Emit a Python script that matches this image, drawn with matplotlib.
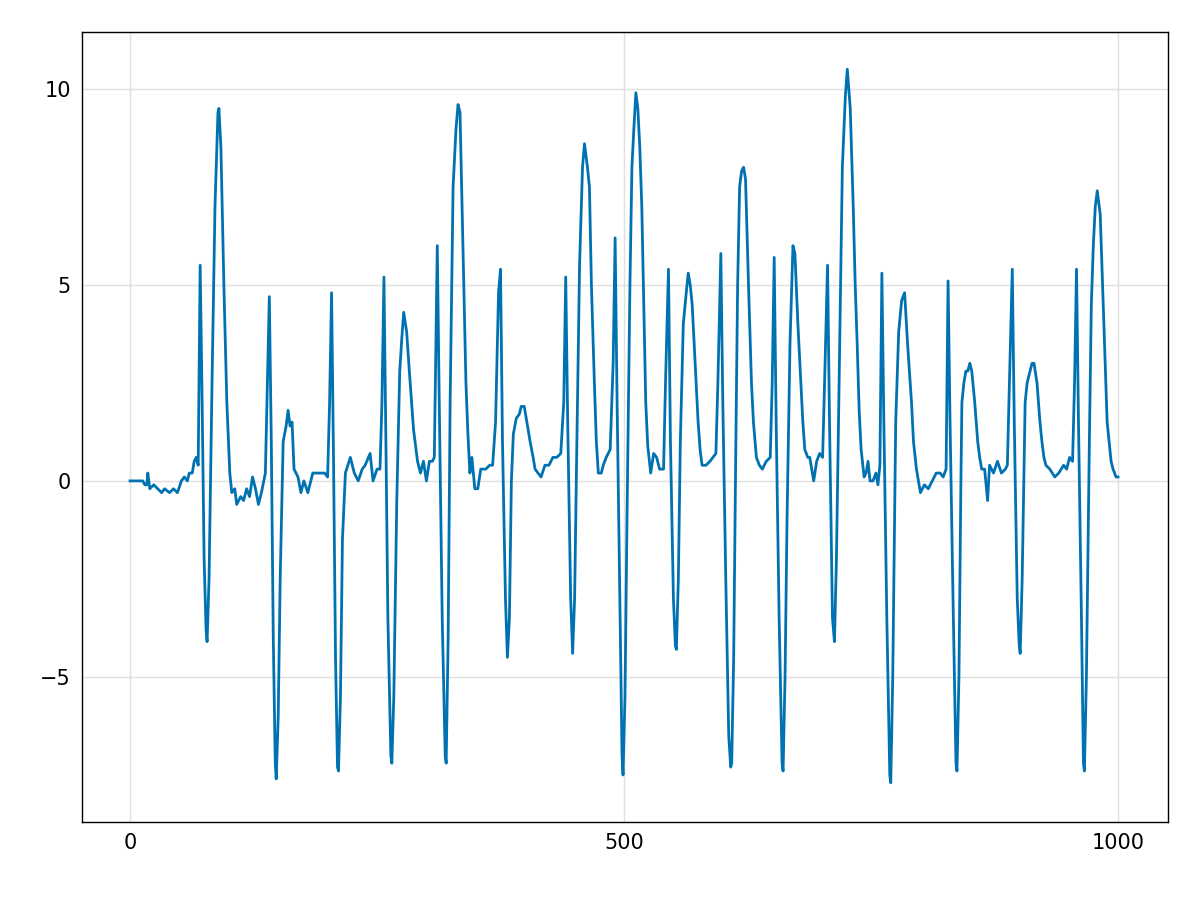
import matplotlib
matplotlib.use("Agg")
import matplotlib.pyplot as plt

# key points (x, y)
points = [
    (0, 0), (10, 0), (13, 0), (15, -0.1), (17, -0.1), (18, 0.2), (20, -0.2), (24, -0.1),
    (28, -0.2), (32, -0.3), (35, -0.2), (40, -0.3), (44, -0.2), (48, -0.3), (52, 0.0),
    (55, 0.1), (58, 0.0), (60, 0.2), (63, 0.2), (65, 0.5), (67, 0.6), (69, 0.4),
    (71, 5.5), (73, 2.0), (75, -2.0), (77, -3.8), (78, -4.1), (80, -2.5), (83, 2.5),
    (86, 7.0), (89, 9.4), (90, 9.5), (92, 8.5), (95, 5.0), (98, 2.0), (101, 0.2),
    (103, -0.3), (106, -0.2), (108, -0.6), (112, -0.4), (115, -0.5), (118, -0.2),
    (121, -0.4), (124, 0.1), (127, -0.2), (130, -0.6), (133, -0.3), (137, 0.2),
    (141, 4.7), (143, 1.0), (145, -4.0), (147, -7.2), (148, -7.6), (150, -6.0),
    (152, -2.5), (155, 1.0), (158, 1.4), (160, 1.8), (162, 1.4), (164, 1.5), (166, 0.3),
    (170, 0.1), (173, -0.3), (176, 0.0), (180, -0.3), (185, 0.2), (190, 0.2), (197, 0.2),
    (200, 0.1), (202, 2.0), (204, 4.8), (206, 0.5), (208, -4.5), (210, -7.3), (211, -7.4),
    (213, -5.5), (215, -1.5), (218, 0.2), (223, 0.6), (227, 0.2), (231, 0.0), (235, 0.3),
    (238, 0.4), (243, 0.7), (246, 0.0), (250, 0.3), (253, 0.3), (255, 2.0),
    (257, 5.2), (259, 1.0), (261, -3.5), (264, -7.0), (265, -7.2), (267, -5.5),
    (270, -0.5), (273, 2.8), (275, 3.6), (277, 4.3), (280, 3.8), (283, 2.7), (287, 1.3),
    (291, 0.5), (294, 0.2), (297, 0.5), (300, 0.0), (303, 0.5), (306, 0.5), (308, 0.6),
    (311, 6.0), (313, 2.0), (316, -3.5), (319, -7.0), (320, -7.2), (322, -4.0),
    (324, 2.0), (327, 7.5), (330, 9.0), (332, 9.6), (334, 9.4), (337, 6.0), (340, 2.5),
    (342, 1.2), (344, 0.2), (346, 0.6), (349, -0.2), (352, -0.2), (355, 0.3), (360, 0.3),
    (364, 0.4), (367, 0.4), (370, 1.5), (373, 4.8),
    (375, 5.4), (377, 1.0), (380, -3.0), (382, -4.5), (384, -3.5), (386, 0.0),
    (388, 1.2), (391, 1.6), (394, 1.7), (396, 1.9), (399, 1.9), (401, 1.6), (405, 1.0),
    (408, 0.6), (410, 0.3), (413, 0.2), (416, 0.1), (420, 0.4), (424, 0.4), (428, 0.6),
    (432, 0.6), (436, 0.7), (439, 2.0),
    (441, 5.2), (443, 1.5), (446, -3.0), (448, -4.4), (450, -3.0), (452, 0.5),
    (455, 5.5), (458, 8.0), (460, 8.6), (463, 8.0), (465, 7.5), (467, 5.0), (470, 2.5),
    (472, 1.0), (474, 0.2), (477, 0.2), (479, 0.4), (482, 0.6), (486, 0.8),
    (489, 3.0), (491, 6.2), (493, 2.0), (496, -3.5), (498, -7.0), (499, -7.5),
    (501, -5.5), (503, -1.0), (506, 5.0), (508, 8.0), (510, 9.0), (512, 9.9),
    (514, 9.5), (516, 8.5), (518, 7.0), (520, 4.5), (522, 2.0), (524, 0.9), (527, 0.2),
    (530, 0.7), (533, 0.6), (536, 0.3), (540, 0.3), (542, 2.5),
    (545, 5.4), (547, 1.0), (550, -3.0), (552, -4.2), (553, -4.3), (555, -2.5),
    (557, 1.0), (560, 4.0), (563, 4.8), (565, 5.3), (567, 5.0), (569, 4.5), (571, 3.5),
    (573, 2.5), (575, 1.5), (577, 0.8), (579, 0.4), (583, 0.4), (587, 0.5), (590, 0.6),
    (593, 0.7), (595, 2.5),
    (598, 5.8), (600, 2.0), (603, -2.5), (606, -6.5), (608, -7.3), (609, -7.2),
    (611, -4.5), (613, 0.5), (615, 5.0), (617, 7.5), (619, 7.9), (621, 8.0), (623, 7.7),
    (626, 5.0), (629, 2.5), (631, 1.5), (634, 0.6), (637, 0.4), (640, 0.3), (644, 0.5),
    (648, 0.6), (650, 2.5),
    (652, 5.7), (654, 1.5), (657, -3.5), (660, -7.2), (661, -7.4), (663, -5.0),
    (665, -1.0), (668, 3.5), (671, 6.0), (673, 5.8), (676, 4.0), (678, 3.0), (681, 1.5),
    (683, 0.8), (686, 0.6), (688, 0.6), (692, 0.0), (695, 0.5), (698, 0.7), (701, 0.6),
    (703, 2.5),
    (706, 5.5), (708, 1.5), (711, -3.5), (713, -4.1), (715, -2.0), (718, 3.0),
    (721, 8.0), (724, 9.8), (726, 10.5), (729, 9.5), (732, 7.0), (734, 5.0), (736, 3.5),
    (738, 1.8), (740, 0.8), (743, 0.1), (745, 0.2), (747, 0.5), (749, 0.0), (752, 0.0),
    (755, 0.2), (757, -0.1), (759, 0.4),
    (761, 5.3), (763, 1.5), (766, -3.5), (769, -7.5), (770, -7.7), (772, -5.0),
    (775, 1.5), (778, 3.8), (781, 4.6), (784, 4.8), (787, 3.5), (791, 2.0), (793, 1.0),
    (796, 0.3), (798, 0.0), (800, -0.3), (804, -0.1), (808, -0.2), (812, 0.0),
    (816, 0.2), (820, 0.2), (823, 0.1), (826, 0.3),
    (828, 5.1), (830, 1.5), (833, -3.0), (836, -7.2), (837, -7.4), (839, -5.0),
    (841, 0.0), (842, 2.0), (844, 2.5), (846, 2.8), (848, 2.8), (850, 3.0), (852, 2.8),
    (855, 2.0), (858, 1.0), (860, 0.6), (862, 0.3), (865, 0.3), (868, -0.5), (870, 0.4),
    (874, 0.2), (878, 0.5), (882, 0.2), (886, 0.3), (888, 0.4),
    (893, 5.4), (895, 1.5), (898, -3.0), (900, -4.2), (901, -4.4), (903, -2.5),
    (906, 2.0), (908, 2.5), (911, 2.8), (913, 3.0), (915, 3.0), (918, 2.5), (921, 1.5),
    (923, 1.0), (925, 0.6), (927, 0.4), (931, 0.3), (936, 0.1), (940, 0.2), (945, 0.4),
    (948, 0.3), (951, 0.6), (954, 0.5), (956, 2.5),
    (958, 5.4), (960, 1.5), (963, -3.5), (965, -7.2), (966, -7.4), (968, -5.0),
    (971, 1.0), (973, 4.5), (975, 6.0), (977, 7.0), (979, 7.4), (982, 6.8), (985, 4.5),
    (987, 3.0), (989, 1.5), (991, 1.0), (993, 0.5), (995, 0.3), (998, 0.1), (1000, 0.1),
]
x_pts = [p[0] for p in points]
y_pts = [p[1] for p in points]

fig = plt.figure(figsize=(12, 9), dpi=100)
ax = fig.add_axes([82/1200, 78/900, 1086/1200, 790/900])
ax.plot(x_pts, y_pts, color="#0072b2", lw=2.0, solid_joinstyle="round")

ax.set_xlim(-48.6, 1050.6)
ax.set_ylim(-8.70, 11.45)
ax.set_xticks([0, 500, 1000])
ax.set_yticks([-5, 0, 5, 10])
ax.set_yticklabels(["\u22125", "0", "5", "10"])
ax.grid(True, color="#e0e0e0", lw=1)
ax.set_axisbelow(True)
ax.tick_params(length=0, labelsize=15, pad=8)
for s in ax.spines.values():
    s.set_linewidth(1.0)

fig.savefig("out.png")
